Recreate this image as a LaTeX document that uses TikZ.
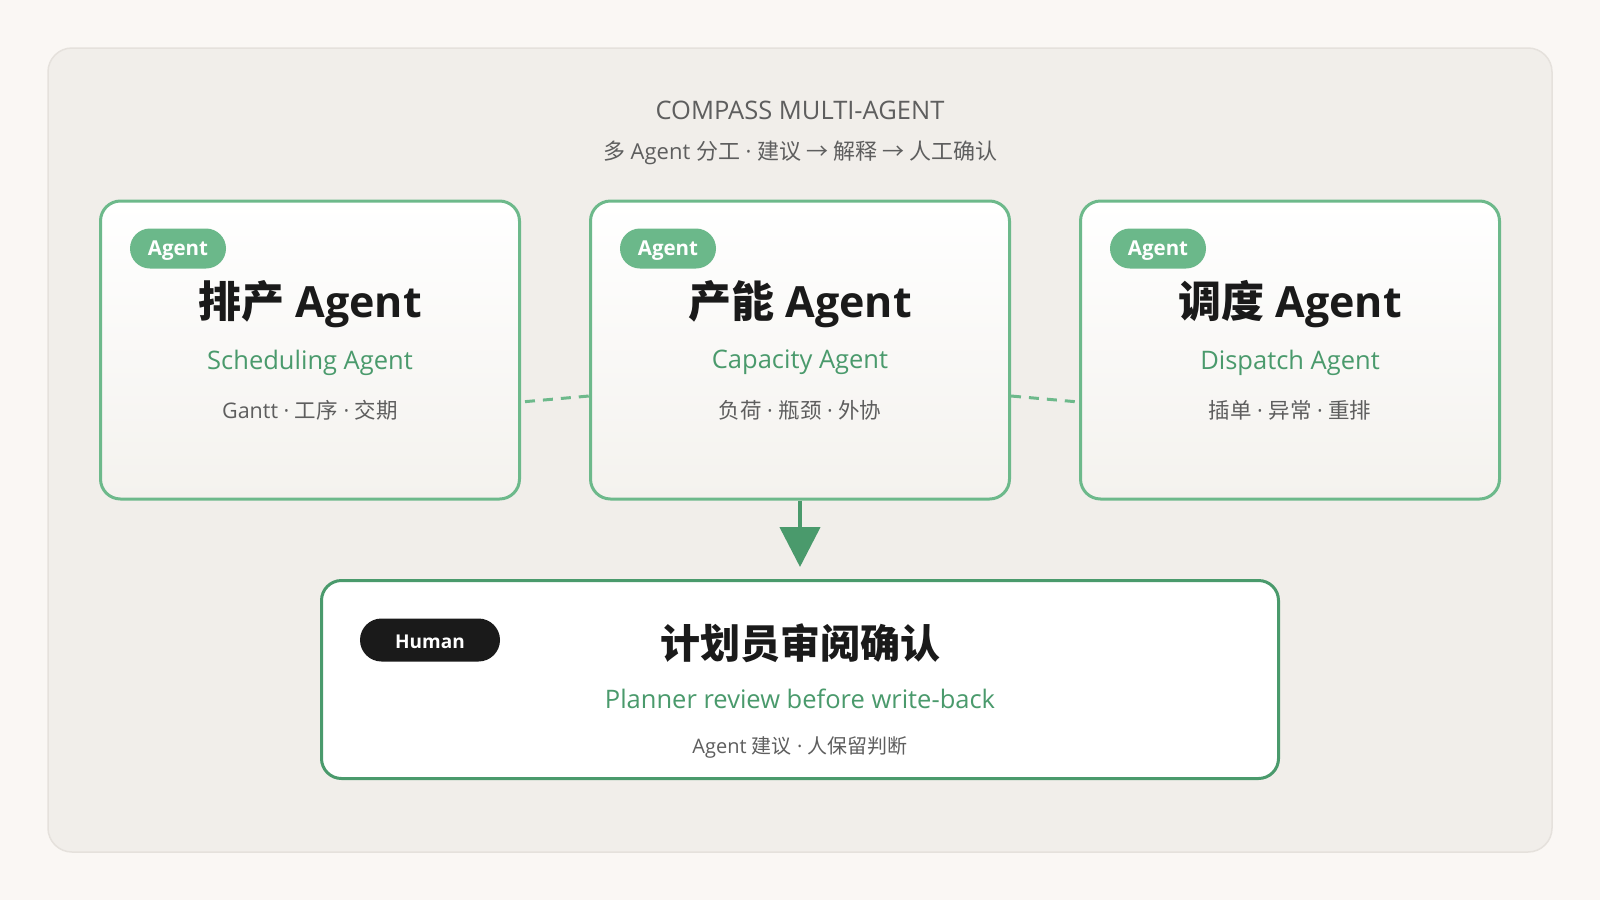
\documentclass[tikz,border=0pt]{standalone}
\usepackage{fontspec}
\setmainfont{Open Sans}
\newfontfamily\cjk{Noto Sans CJK SC}
\usepackage{tikz}
\usetikzlibrary{positioning}
\usetikzlibrary{calc}
\usetikzlibrary{arrows.meta}

\definecolor{pagebg}{HTML}{FAF7F4}
\definecolor{panelbg}{HTML}{F1EEEA}
\definecolor{panelline}{HTML}{E5E1DC}
\definecolor{cardline}{HTML}{6DB98B}
\definecolor{cardbot}{HTML}{F4F2EE}
\definecolor{badgegreen}{HTML}{6BB88A}
\definecolor{deepgreen}{HTML}{4A9A6C}
\definecolor{inkblack}{HTML}{1A1A1A}
\definecolor{softgray}{HTML}{5E5E5E}

\tikzset{
  card/.style={draw=cardline,line width=3pt,rounded corners=20pt,
    minimum width=419pt,minimum height=298pt,inner sep=0pt,
    top color=white,bottom color=cardbot},
  agentbadge/.style={fill=badgegreen,text=white,rounded corners=20pt,
    minimum width=96pt,minimum height=40pt,inner sep=0pt,text depth=0pt,
    font=\bfseries\fontsize{20.5}{24}\selectfont},
  cardtitle/.style={text=inkblack,inner sep=0pt,font=\bfseries\fontsize{43}{50}\selectfont},
  cardsub/.style={text=deepgreen,inner sep=0pt,font=\fontsize{25.5}{30}\selectfont},
  carddetail/.style={text=softgray,inner sep=0pt,font=\fontsize{21.5}{26}\selectfont},
  link/.style={draw=cardline,line width=3pt,dash pattern=on 10pt off 8pt},
  flow/.style={draw=deepgreen,line width=4.5pt,shorten >=12pt,
    -{Triangle[width=40pt,length=40pt]}},
  humanbox/.style={draw=deepgreen,line width=3pt,rounded corners=20pt,fill=white,
    minimum width=957pt,minimum height=198pt,inner sep=0pt},
  humanbadge/.style={fill=inkblack,text=white,rounded corners=21.5pt,
    minimum width=140pt,minimum height=43pt,inner sep=0pt,text height=17pt,
    font=\bfseries\fontsize{19}{23}\selectfont},
}

\begin{document}
\begin{tikzpicture}[x=1pt,y=-1pt]
  \fill[pagebg] (0,0) rectangle (1600,900);
  \useasboundingbox (0,0) rectangle (1600,900);
  \draw[draw=panelline,fill=panelbg,line width=1.5pt,rounded corners=24pt] (48,48) rectangle (1552,852);

  \node[text=softgray,font=\fontsize{25.5}{30}\selectfont] (head) at (800,110) {COMPASS MULTI-AGENT};
  \node[text=softgray,font=\fontsize{22}{27}\selectfont] (headsub) at (800,153) {{\cjk 多} Agent {\cjk 分工} · {\cjk 建议 → 解释 → 人工确认}};

  \node[card] (sched) at (310,350) {};
  \node[card] (cap) at (800,350) {};
  \node[card] (disp) at (1290,350) {};

  \foreach \n/\zh/\en/\dt in {sched/排产/Scheduling/{Gantt · {\cjk 工序} · {\cjk 交期}},
      cap/产能/Capacity/{{\cjk 负荷} · {\cjk 瓶颈} · {\cjk 外协}},
      disp/调度/Dispatch/{{\cjk 插单} · {\cjk 异常} · {\cjk 重排}}} {
    \node[agentbadge] (\n-badge) at ($(\n.north west)+(79,49)$) {Agent};
    \node[cardtitle] (\n-title) at ($(\n.north)+(0,105)$) {{\cjk\zh} Agent};
    \node[cardsub] (\n-sub) at ($(\n.north)+(0,163)$) {\en\ Agent};
    \node[carddetail] (\n-detail) at ($(\n.north)+(0,211)$) {\dt};
  }

  \draw[link,shorten <=4pt] ([yshift=-52pt]sched.east) -- ([yshift=-46pt]cap.west);
  \draw[link,shorten >=4pt] ([yshift=-46pt]cap.east) -- ([yshift=-52pt]disp.west);

  \node[humanbox] (human) at (800,679.5) {};
  \node[humanbadge] (human-badge) at ($(human.north west)+(110,61)$) {Human};
  \node[cardtitle,font=\bfseries\cjk\fontsize{40}{46}\selectfont] (human-title) at ($(human.north)+(0,64)$) {计划员审阅确认};
  \node[cardsub] (human-sub) at ($(human.north)+(0,120)$) {Planner review before write-back};
  \node[carddetail,font=\fontsize{20}{24}\selectfont] (human-detail) at ($(human.north)+(0,168)$) {Agent {\cjk 建议} · {\cjk 人保留判断}};

  \draw[flow] (cap.south) -- (human.north);
\end{tikzpicture}
\end{document}
